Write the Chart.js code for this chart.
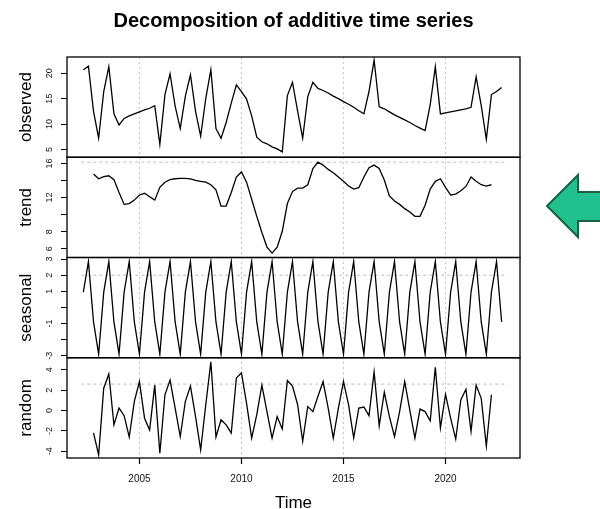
<!DOCTYPE html>
<html>
<head>
<meta charset="utf-8">
<script src="https://cdn.jsdelivr.net/npm/chart.js@4.4.1/dist/chart.umd.min.js"></script>
<style>
  html, body { margin: 0; padding: 0; background: #fff; }
  #wrap { position: relative; width: 600px; height: 509px; }
  #arrow { position: absolute; left: 0; top: 0; }
</style>
</head>
<body>
<div id="wrap">
  <canvas id="c" width="600" height="509"></canvas>
  <svg id="arrow" width="600" height="509" viewBox="0 0 600 509">
    <polygon points="547,206 578,175 578,192 603,192 603,221 578,221 578,237" fill="#22c08f" stroke="#1c5f42" stroke-width="2" stroke-linejoin="miter"/>
  </svg>
</div>
<script>
// ---- Data (quarterly) ----
const times = [2002.25, 2002.5, 2002.75, 2003, 2003.25, 2003.5, 2003.75, 2004, 2004.25, 2004.5, 2004.75, 2005, 2005.25, 2005.5, 2005.75, 2006, 2006.25, 2006.5, 2006.75, 2007, 2007.25, 2007.5, 2007.75, 2008, 2008.25, 2008.5, 2008.75, 2009, 2009.25, 2009.5, 2009.75, 2010, 2010.25, 2010.5, 2010.75, 2011, 2011.25, 2011.5, 2011.75, 2012, 2012.25, 2012.5, 2012.75, 2013, 2013.25, 2013.5, 2013.75, 2014, 2014.25, 2014.5, 2014.75, 2015, 2015.25, 2015.5, 2015.75, 2016, 2016.25, 2016.5, 2016.75, 2017, 2017.25, 2017.5, 2017.75, 2018, 2018.25, 2018.5, 2018.75, 2019, 2019.25, 2019.5, 2019.75, 2020, 2020.25, 2020.5, 2020.75, 2021, 2021.25, 2021.5, 2021.75, 2022, 2022.25, 2022.5, 2022.75];

const observed = [20.7, 21.4, 12.5, 7.2, 16.4, 21.3, 12.0, 9.8, 11.1, 11.6,
  12.0, 12.4, 12.8, 13.1, 13.6, 6.0, 15.8, 19.9, 13.5, 9.1,
  15.5, 19.7, 12.5, 7.6, 15.0, 20.7, 9.1, 7.2, 10.3, 14.1,
  17.7, 16.4, 14.9, 11.6, 7.4, 6.5, 6.1, 5.5, 5.1, 4.5,
  15.6, 18.2, 12.6, 7.2, 15.4, 18.2, 17.0, 16.6, 16.1, 15.5,
  15.0, 14.4, 13.9, 13.3, 12.6, 12.0, 16.4, 22.6, 13.4, 13.0,
  12.4, 11.8, 11.3, 10.8, 10.3, 9.7, 9.2, 8.7, 13.8, 21.3,
  12.0, 12.2, 12.4, 12.6, 12.8, 13.0, 13.3, 19.3, 13.6, 7.0,
  15.8, 16.4, 17.2];

const trend = [null, null, 14.75, 14.2, 14.45, 14.55, 14.1, 12.6, 11.2, 11.3,
  11.7, 12.3, 12.5, 12.1, 11.7, 13.2, 13.8, 14.1, 14.2, 14.25,
  14.25, 14.2, 14.0, 13.9, 13.8, 13.5, 12.9, 11.0, 11.0, 12.6,
  14.4, 15.0, 13.8, 11.8, 9.8, 7.9, 6.2, 5.5, 6.2, 8.05,
  11.3, 12.7, 13.1, 13.1, 13.5, 15.4, 16.15, 15.8, 15.3, 14.9,
  14.4, 13.9, 13.35, 13.0, 13.15, 14.4, 15.5, 15.8, 15.4, 14.05,
  12.2, 11.6, 11.2, 10.7, 10.3, 9.8, 9.8, 11.1, 13.0, 13.9,
  14.2, 13.2, 12.3, 12.4, 12.8, 13.3, 14.4, 13.9, 13.5, 13.35,
  13.5, null, null];

const seasonal = [0.95, 2.85, -0.9, -2.9, 0.95, 2.85, -0.9, -2.9, 0.95, 2.85,
  -0.9, -2.9, 0.95, 2.85, -0.9, -2.9, 0.95, 2.85, -0.9, -2.9,
  0.95, 2.85, -0.9, -2.9, 0.95, 2.85, -0.9, -2.9, 0.95, 2.85,
  -0.9, -2.9, 0.95, 2.85, -0.9, -2.9, 0.95, 2.85, -0.9, -2.9,
  0.95, 2.85, -0.9, -2.9, 0.95, 2.85, -0.9, -2.9, 0.95, 2.85,
  -0.9, -2.9, 0.95, 2.85, -0.9, -2.9, 0.95, 2.85, -0.9, -2.9,
  0.95, 2.85, -0.9, -2.9, 0.95, 2.85, -0.9, -2.9, 0.95, 2.85,
  -0.9, -2.9, 0.95, 2.85, -0.9, -2.9, 0.95, 2.85, -0.9, -2.9,
  0.95, 2.85, -0.9];

const random = [null, null, -2.2, -4.35, 2.2, 3.6, -1.4, 0.25, -0.5, -2.6,
  0.9, 2.85, -0.75, -1.9, 2.5, -4.2, 1.55, 3.0, 0.25, -2.55,
  0.9, 2.4, -0.6, -3.85, 0.55, 4.8, -2.6, -0.9, -1.4, -2.2,
  3.2, 3.7, 0.7, -2.7, -0.4, 2.5, -0.1, -2.7, -0.6, -1.8,
  2.95, 2.4, 0.6, -3.0, 0.4, -0.1, 1.4, 2.85, 0.25, -2.7,
  0.25, 2.85, 0.55, -2.7, 0.25, 0.35, -0.5, 3.8, -1.5, 1.8,
  -0.6, -2.55, -0.1, 2.85, 0.05, -2.7, 0.15, -0.1, -1.0, 4.25,
  -1.7, 1.6, -0.75, -2.8, 1.05, 2.1, -2.05, 2.5, 1.2, -3.5,
  1.55, null, null];

// faint dashed reference lines seen in three panels
const refX = [2002.15, 2023.05];
const trendRef = [16.15, 16.15];
const seasRef = [2.0, 2.0];
const randRef = [2.6, 2.6];

// tick values / labels
const xTickYears = [2005, 2010, 2015, 2020];
const obsTickVals = [5, 10, 15, 20];
const obsTickText = ['5', '10', '15', '20'];
const trendTickVals = [6, 8, 10, 12, 14, 16];
const trendTickText = ['6', '8', '', '12', '', '16'];
const seasTickVals = [-3, -2, -1, 0, 1, 2, 3];
const seasTickText = ['-3', '', '-1', '', '1', '2', '3'];
const randTickVals = [-4, -2, 0, 2, 4];
const randTickText = ['-4', '-2', '0', '2', '4'];

const panelNames = ['observed', 'trend', 'seasonal', 'random'];
const titleText = 'Decomposition of additive time series';
const xTitle = 'Time';

// ---- Chart ----
const FONT = '"Liberation Sans", Arial, Helvetica, sans-serif';
Chart.defaults.font.family = FONT;
Chart.defaults.color = '#000';

function pts(xs, ys) { return xs.map((x, i) => ({ x: x, y: ys[i] })); }

function seriesDS(values, axis) {
  return { data: pts(times, values), yAxisID: axis, borderColor: '#000', borderWidth: 1.3,
           pointRadius: 0, tension: 0, spanGaps: false, fill: false };
}
function refDS(values, axis) {
  return { data: pts(refX, values), yAxisID: axis, borderColor: '#bdbdbd', borderWidth: 1,
           borderDash: [3, 3], pointRadius: 0, fill: false };
}

function yAxis(name, weight, min, max, vals, texts, pad) {
  return {
    type: 'linear', position: 'left', stack: 'panels', stackWeight: 1, weight: weight,
    min: min, max: max, offset: false,
    afterBuildTicks: s => { s.ticks = vals.map(v => ({ value: v })); },
    afterFit: s => { s.width = 67; },
    ticks: {
      autoSkip: false, minRotation: 90, maxRotation: 90, crossAlign: 'center',
      padding: pad, color: '#111', font: { size: 9 },
      callback: v => { const k = vals.indexOf(v); return k >= 0 ? texts[k] : ''; }
    },
    grid: { display: true, drawOnChartArea: false, drawTicks: true, tickLength: 6,
            tickColor: '#000', tickWidth: 1 },
    border: { display: false },
    title: { display: true, text: name, color: '#000', font: { size: 17 },
             padding: { top: 16, bottom: 0 } }
  };
}

const panelBoxes = {
  id: 'panelBoxes',
  afterDatasetsDraw(chart) {
    const { ctx, chartArea } = chart;
    ctx.save();
    ctx.strokeStyle = '#000';
    ctx.lineWidth = 1.3;
    ['yObs', 'yTrend', 'ySeas', 'yRand'].forEach(id => {
      const s = chart.scales[id];
      ctx.strokeRect(chartArea.left, s.top, chartArea.right - chartArea.left, s.bottom - s.top);
    });
    ctx.restore();
  }
};

new Chart(document.getElementById('c'), {
  type: 'line',
  data: {
    datasets: [
      seriesDS(observed, 'yObs'),
      seriesDS(trend, 'yTrend'),
      seriesDS(seasonal, 'ySeas'),
      seriesDS(random, 'yRand'),
      refDS(trendRef, 'yTrend'),
      refDS(seasRef, 'ySeas'),
      refDS(randRef, 'yRand')
    ]
  },
  options: {
    responsive: false,
    animation: false,
    events: [],
    layout: { padding: { left: 0, right: 80, top: 0, bottom: 0 } },
    plugins: {
      legend: { display: false },
      tooltip: { enabled: false },
      title: { display: true, text: titleText, fullSize: false, color: '#000',
               font: { size: 20, weight: 'bold' }, padding: { top: 9, bottom: 24 } }
    },
    scales: {
      x: {
        type: 'linear', position: 'bottom', min: 2001.45, max: 2023.65,
        afterBuildTicks: s => { s.ticks = xTickYears.map(v => ({ value: v })); },
        afterFit: s => { s.height = 51; },
        ticks: { autoSkip: false, maxRotation: 0, padding: 9, color: '#111', font: { size: 10 },
                 callback: v => String(v) },
        grid: { display: true, drawOnChartArea: true, color: '#c4c4c4', lineWidth: 1,
                drawTicks: true, tickLength: 6, tickColor: '#000', tickWidth: 1.2,
                tickBorderDash: [1, 0] },
        border: { display: false, dash: [2, 3] },
        title: { display: true, text: xTitle, color: '#000', font: { size: 17, lineHeight: 0.7 },
                 padding: { top: 0, bottom: 0 } }
      },
      yObs: yAxis(panelNames[0], 4, 3.45, 23.2, obsTickVals, obsTickText, 6),
      yTrend: yAxis(panelNames[1], 3, 4.98, 16.72, trendTickVals, trendTickText, 6),
      ySeas: yAxis(panelNames[2], 2, -3.12, 3.1, seasTickVals, seasTickText, 7),
      yRand: yAxis(panelNames[3], 1, -4.66, 5.19, randTickVals, randTickText, 7)
    }
  },
  plugins: [panelBoxes]
});
</script>
</body>
</html>
